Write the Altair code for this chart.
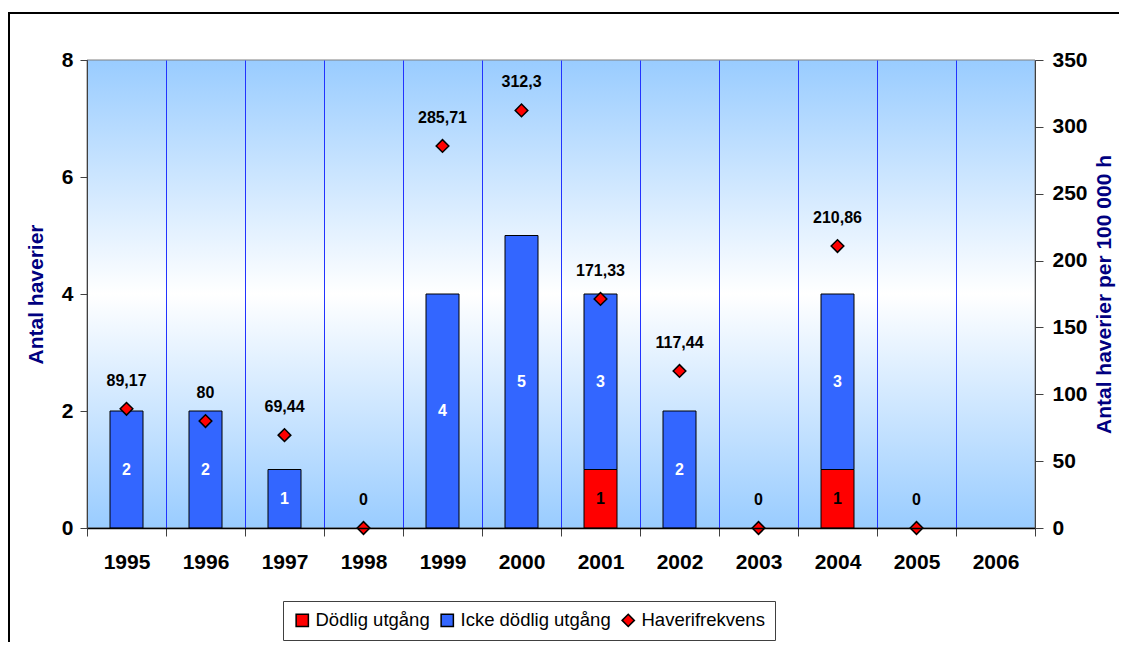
import altair as alt
import pandas as pd

years = ["1995", "1996", "1997", "1998", "1999", "2000", "2001", "2002", "2003", "2004", "2005", "2006"]
fatal = [0, 0, 0, 0, 0, 0, 1, 0, 0, 1, 0, 0]
nonfatal = [2, 2, 1, 0, 4, 5, 3, 2, 0, 3, 0, 0]
freq = [89.17, 80, 69.44, 0, 285.71, 312.3, 171.33, 117.44, 0, 210.86, 0, None]
freq_labels = ["89,17", "80", "69,44", "0", "285,71", "312,3", "171,33", "117,44", "0", "210,86", "0", ""]

series_names = ["Dödlig utgång", "Icke dödlig utgång", "Haverifrekvens"]
series_colors = ["#FF0000", "#3366FF", "#FF0000"]
series_shapes = ["square", "square", "diamond"]

FONT = "Liberation Sans"
W, H = 948, 468

# bar segments
rows = []
for y, f, n in zip(years, fatal, nonfatal):
    if f > 0:
        rows.append({"year": y, "series": series_names[0], "value": f, "y0": 0, "y1": f})
    if n > 0:
        rows.append({"year": y, "series": series_names[1], "value": n, "y0": f, "y1": f + n})
bars_df = pd.DataFrame(rows)
bars_df["mid"] = (bars_df["y0"] + bars_df["y1"]) / 2

pts_df = pd.DataFrame({"year": years, "freq": freq, "label": freq_labels,
                       "series": series_names[2]}).dropna(subset=["freq"])

x_enc = alt.X("year:N", sort=years,
              scale=alt.Scale(domain=years, paddingInner=0, paddingOuter=0),
              axis=alt.Axis(title=None, tickBand="extent", grid=True, gridColor="#2233FF",
                            gridWidth=1, domainColor="black", domainWidth=1.5, tickColor="#404040",
                            tickSize=8, labelFontSize=21, labelFontWeight="bold", labelPadding=15,
                            labelAngle=0, labelColor="black", zindex=1))

color_scale = alt.Scale(domain=series_names, range=series_colors)
shape_scale = alt.Scale(domain=series_names, range=series_shapes)
legend = alt.Legend(title=None, orient="none", legendX=196, legendY=541, direction="horizontal",
                    strokeColor="#404040", padding=10, labelFontSize=18.5, labelFont=FONT,
                    labelColor="black", symbolSize=150, columnPadding=8, labelOffset=4,
                    symbolStrokeColor="black", symbolStrokeWidth=1.5, fillColor="white")

one = pd.DataFrame({"a": [0]})

frame = alt.Chart(one).mark_rect(filled=False, stroke="black", strokeWidth=2).encode(
    x=alt.value(-78), x2=alt.value(1100), y=alt.value(-47), y2=alt.value(700))

bg = alt.Chart(one).mark_rect(
    stroke="#808080", strokeWidth=1,
    color=alt.Gradient(gradient="linear",
                       stops=[alt.GradientStop(color="#99CCFF", offset=0),
                              alt.GradientStop(color="#FFFFFF", offset=0.5),
                              alt.GradientStop(color="#99CCFF", offset=1)],
                       x1=0, x2=0, y1=0, y2=1)
).encode(x=alt.value(0), x2=alt.value(W), y=alt.value(0), y2=alt.value(H))

left_axis = alt.Axis(title="Antal haverier", values=[0, 2, 4, 6, 8], grid=False, format="d",
                     titleColor="#000080", titleFontSize=21, titleFontWeight="bold", titlePadding=15,
                     labelFontSize=21, labelFontWeight="bold", labelColor="black", labelPadding=7,
                     tickSize=7, tickColor="#404040", domainColor="#404040", zindex=2)
right_axis = alt.Axis(title="Antal haverier per 100 000 h", orient="right",
                      values=[0, 50, 100, 150, 200, 250, 300, 350], grid=False, format="d",
                      titleColor="#000080", titleFontSize=21, titleFontWeight="bold", titlePadding=6,
                      titleAngle=270, titleBaseline="top",
                      labelFontSize=21, labelFontWeight="bold", labelColor="black", labelPadding=9,
                      tickSize=8, tickColor="#404040", domainColor="#404040", zindex=2)

bars = alt.Chart(bars_df).mark_bar(size=33, stroke="black", strokeWidth=1).encode(
    x=x_enc,
    y=alt.Y("y1:Q", scale=alt.Scale(domain=[0, 8]), axis=left_axis),
    y2="y0:Q",
    color=alt.Color("series:N", scale=color_scale, legend=legend),
)

bar_text = alt.Chart(bars_df).mark_text(fontSize=16, fontWeight="bold", font=FONT).encode(
    x=x_enc,
    y=alt.Y("mid:Q"),
    text="value:Q",
    color=alt.condition("datum.series === 'Dödlig utgång'", alt.value("black"), alt.value("white")),
)

points = alt.Chart(pts_df).mark_point(filled=True, size=160, stroke="black", strokeWidth=1.5,
                                      opacity=1).encode(
    x=x_enc,
    y=alt.Y("freq:Q", scale=alt.Scale(domain=[0, 350]), axis=right_axis),
    color=alt.Color("series:N", scale=color_scale, legend=legend),
    shape=alt.Shape("series:N", scale=shape_scale, legend=legend),
)

pt_text = alt.Chart(pts_df).mark_text(fontSize=16, fontWeight="bold", font=FONT, dy=-28,
                                      color="black").encode(
    x=x_enc,
    y=alt.Y("freq:Q"),
    text="label:N",
)

left = alt.layer(frame, bg, bars, bar_text)
right = alt.layer(points, pt_text)

chart = alt.layer(left, right).resolve_scale(y="independent").properties(
    width=W, height=H,
    padding={"left": 79, "top": 52, "right": 84, "bottom": 114},
    autosize=alt.AutoSizeParams(type="none"),
).configure(font=FONT).configure_view(stroke=None).configure_axis(labelFont=FONT, titleFont=FONT)

chart.save("out.html", embed_options={"renderer": "svg", "actions": False})
